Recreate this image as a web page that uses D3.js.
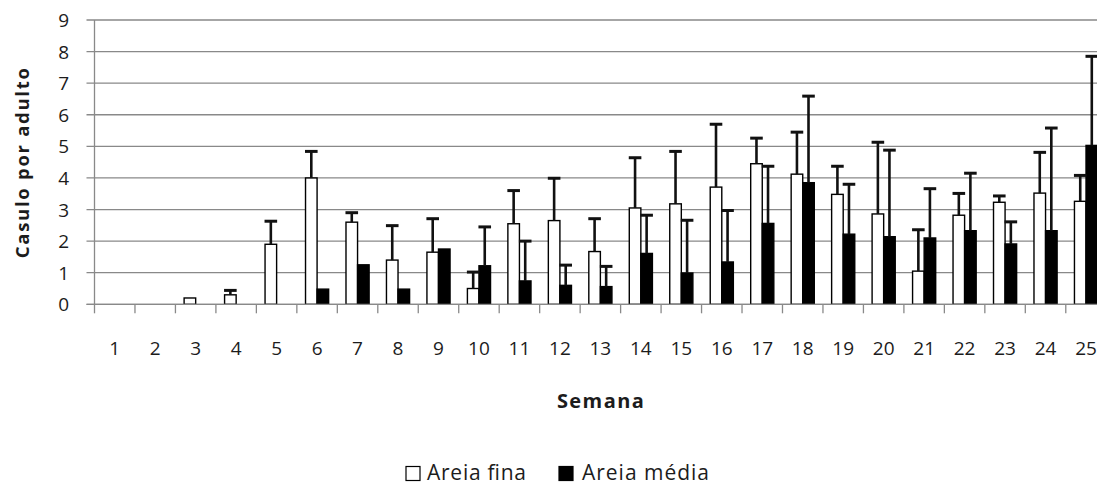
<!DOCTYPE html>
<html>
<head>
<meta charset="utf-8">
<script src="https://cdn.jsdelivr.net/npm/d3@7"></script>
<style>
  body { margin: 0; background: #ffffff; }
  svg { display: block; }
  text { font-family: "Open Sans", "Liberation Sans", sans-serif; fill: #1c1c1c; }
</style>
</head>
<body>
<svg id="chart" width="1097" height="486"></svg>
<script>
// Semanas de observação
const weeks = ["1","2","3","4","5","6","7","8","9","10","11","12","13","14","15","16","17","18","19","20","21","22","23","24","25"];
const seriesNames = ["Areia fina", "Areia média"];

// Casulos por adulto (média) e desvio (barra de erro superior)
const areiaFina    = [0, 0, 0.2, 0.3, 1.9, 4.0, 2.6, 1.4, 1.65, 0.5, 2.55, 2.65, 1.67, 3.05, 3.18, 3.71, 4.45, 4.12, 3.48, 2.86, 1.05, 2.82, 3.23, 3.52, 3.26];
const areiaFinaErr = [0, 0, 0, 0.14, 0.73, 0.84, 0.3, 1.09, 1.06, 0.52, 1.05, 1.34, 1.04, 1.59, 1.66, 1.99, 0.81, 1.33, 0.89, 2.27, 1.31, 0.69, 0.2, 1.29, 0.82];
const areiaMedia    = [0, 0, 0, 0, 0, 0.48, 1.25, 0.48, 1.75, 1.22, 0.74, 0.6, 0.56, 1.61, 0.99, 1.34, 2.56, 3.85, 2.22, 2.14, 2.10, 2.33, 1.91, 2.33, 5.03];
const areiaMediaErr = [0, 0, 0, 0, 0, 0, 0, 0, 0, 1.23, 1.26, 0.64, 0.64, 1.21, 1.67, 1.63, 1.81, 2.74, 1.58, 2.74, 1.56, 1.82, 0.70, 3.25, 2.82];

const yTickValues = [0, 1, 2, 3, 4, 5, 6, 7, 8, 9];

const seriesFill = { "Areia fina": "#ffffff", "Areia média": "#000000" };

const svg = d3.select("#chart");
const W = 1097;

// Plot area (the last category runs past the right edge of the canvas)
const plotLeft = 94.5, step = 40.47;
const plotRight = plotLeft + step * weeks.length;
const plotTop = 20, plotBottom = 304.3;

const x = d3.scaleBand().domain(weeks).range([plotLeft, plotRight])
  .paddingInner(0.4286).paddingOuter(0.2143);
const xs = d3.scaleBand().domain(seriesNames).range([0, x.bandwidth()]);
const y = d3.scaleLinear().domain([0, 9]).range([plotBottom, plotTop]);

const rows = weeks.map((w, i) => ({
  week: w,
  values: [
    { s: seriesNames[0], v: areiaFina[i], e: areiaFinaErr[i] },
    { s: seriesNames[1], v: areiaMedia[i], e: areiaMediaErr[i] }
  ]
}));

const gridColor = "#898989";

// Horizontal gridlines with outside tick marks on the value axis
svg.append("g").selectAll("line").data(yTickValues).join("line")
  .attr("x1", plotLeft - 8).attr("x2", W)
  .attr("y1", d => y(d)).attr("y2", d => y(d))
  .attr("stroke", gridColor).attr("stroke-width", 1.3);

// Value axis labels
svg.append("g").selectAll("text").data(yTickValues).join("text")
  .attr("x", 69).attr("y", d => y(d))
  .attr("text-anchor", "end").attr("dominant-baseline", "central")
  .attr("font-size", 19)
  .text(d => d);

// Vertical axis line
svg.append("line")
  .attr("x1", plotLeft).attr("x2", plotLeft).attr("y1", plotTop).attr("y2", plotBottom)
  .attr("stroke", gridColor).attr("stroke-width", 1.3);

// Category axis: ticks sit on the boundaries between weeks
const boundaries = weeks.map(w => x(w) - x.paddingOuter() * x.step());
svg.append("g").selectAll("line").data(boundaries).join("line")
  .attr("x1", d => d).attr("x2", d => d)
  .attr("y1", plotBottom).attr("y2", plotBottom + 9)
  .attr("stroke", gridColor).attr("stroke-width", 1.3);

svg.append("g").selectAll("text").data(weeks).join("text")
  .attr("x", d => x(d) + x.bandwidth() / 2).attr("y", 355)
  .attr("text-anchor", "middle").attr("font-size", 19)
  .text(d => d);

// Bars
const groups = svg.append("g").selectAll("g").data(rows).join("g")
  .attr("transform", d => `translate(${x(d.week)},0)`);

groups.selectAll("rect").data(d => d.values.filter(p => p.v > 0)).join("rect")
  .attr("x", p => xs(p.s)).attr("width", xs.bandwidth())
  .attr("y", p => y(p.v)).attr("height", p => y(0) - y(p.v))
  .attr("fill", p => seriesFill[p.s])
  .attr("stroke", "#000").attr("stroke-width", 1.4);

// Upper error bars
const errs = groups.selectAll("g.err").data(d => d.values.filter(p => p.e > 0)).join("g")
  .attr("class", "err");
errs.append("line")
  .attr("x1", p => xs(p.s) + xs.bandwidth() / 2).attr("x2", p => xs(p.s) + xs.bandwidth() / 2)
  .attr("y1", p => y(p.v)).attr("y2", p => y(p.v + p.e))
  .attr("stroke", "#111").attr("stroke-width", 2.6);
errs.append("line")
  .attr("x1", p => xs(p.s) + xs.bandwidth() / 2 - 6.3).attr("x2", p => xs(p.s) + xs.bandwidth() / 2 + 6.3)
  .attr("y1", p => y(p.v + p.e)).attr("y2", p => y(p.v + p.e))
  .attr("stroke", "#111").attr("stroke-width", 3);

// Baseline
svg.append("line")
  .attr("x1", plotLeft - 8).attr("x2", W).attr("y1", plotBottom).attr("y2", plotBottom)
  .attr("stroke", gridColor).attr("stroke-width", 1.3);

// Axis titles
svg.append("text")
  .attr("transform", `translate(29,${(plotTop + plotBottom) / 2 + 1}) rotate(-90)`)
  .attr("text-anchor", "middle").attr("font-size", 18.5).attr("font-weight", 700)
  .attr("textLength", 190).attr("lengthAdjust", "spacing")
  .text("Casulo por adulto");

svg.append("text")
  .attr("x", (plotLeft + plotRight) / 2).attr("y", 408)
  .attr("text-anchor", "middle").attr("font-size", 20).attr("font-weight", 700)
  .attr("textLength", 87).attr("lengthAdjust", "spacing")
  .text("Semana");

// Legend
const legendItems = [
  { name: seriesNames[0], box: 406, text: 427, len: 99 },
  { name: seriesNames[1], box: 559, text: 582, len: 127 }
];
const lg = svg.append("g").selectAll("g").data(legendItems).join("g");
lg.append("rect")
  .attr("x", d => d.box).attr("y", 466.5).attr("width", 14).attr("height", 14)
  .attr("fill", d => seriesFill[d.name]).attr("stroke", "#000").attr("stroke-width", 1.2);
lg.append("text")
  .attr("x", d => d.text).attr("y", 480)
  .attr("font-size", 21)
  .attr("textLength", d => d.len).attr("lengthAdjust", "spacing")
  .text(d => d.name);
</script>
</body>
</html>
